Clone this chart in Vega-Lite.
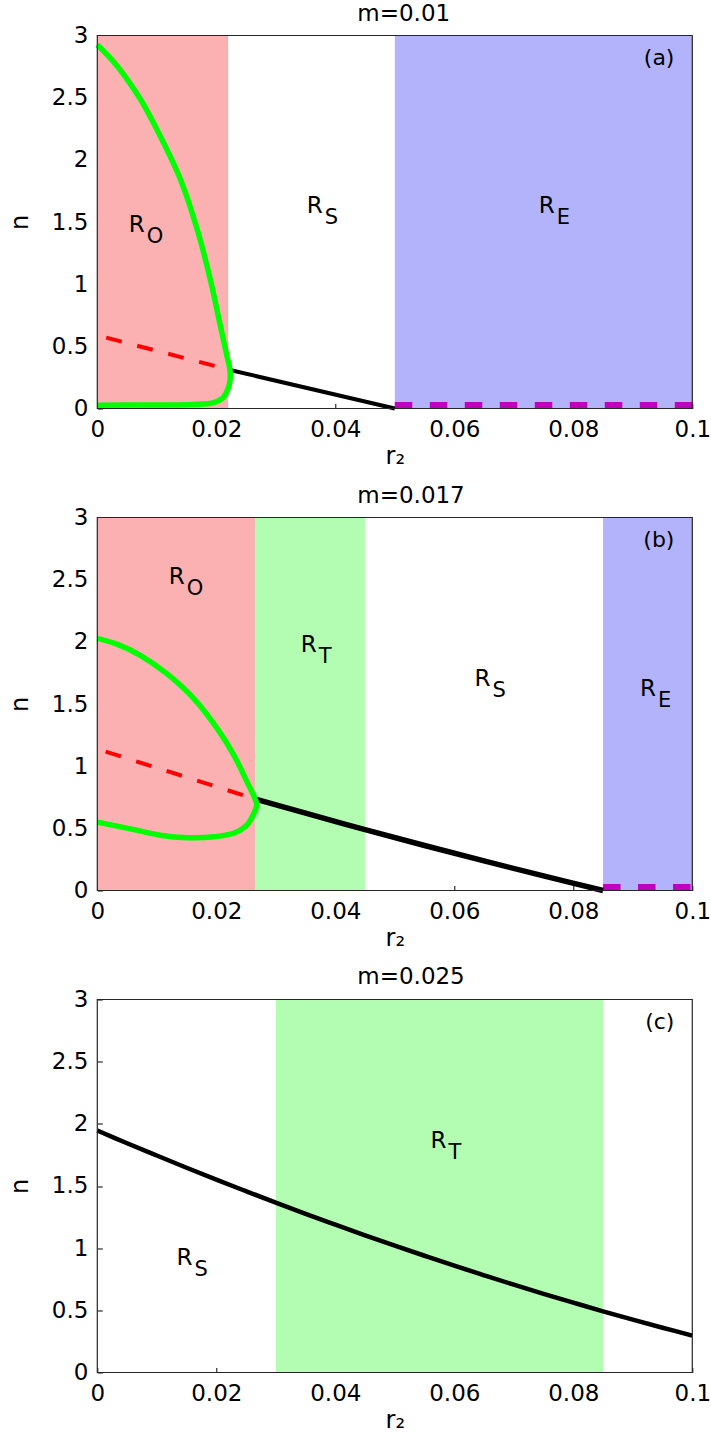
{
  "$schema": "https://vega.github.io/schema/vega-lite/v6.json",
  "background": "white",
  "padding": {"left": 8.3, "top": 2.5, "right": 2, "bottom": 5},
  "bounds": "flush",
  "spacing": 109,
  "config": {
    "font": "DejaVu Sans",
    "view": {"stroke": null},
    "axis": {
      "labelFont": "DejaVu Sans", "titleFont": "DejaVu Sans",
      "labelFontSize": 23, "titleFontSize": 24, "titleFontWeight": "normal",
      "labelColor": "#000", "titleColor": "#000",
      "labelFlush": false, "labelOverlap": false,
      "domain": false, "grid": false,
      "ticks": true, "tickSize": -5, "tickColor": "#000", "tickWidth": 1
    },
    "axisX": {"labelPadding": 15, "titlePadding": 3},
    "axisY": {"labelPadding": 14.4, "titlePadding": 19},
    "title": {"font": "DejaVu Sans", "fontSize": 23, "fontWeight": "normal", "color": "#000", "anchor": "start", "frame": "group", "dx": 260, "offset": -1, "baseline": "alphabetic"}
  },
  "datasets": {
    "frame": [{"r": 0, "r_end": 0.1, "n_lo": 0, "n_hi": 3}],
    "regions": [
      {"panel": "a", "region": "O", "r": 0, "r_end": 0.022, "n_lo": 0, "n_hi": 3},
      {"panel": "a", "region": "E", "r": 0.05, "r_end": 0.1, "n_lo": 0, "n_hi": 3},
      {"panel": "b", "region": "O", "r": 0, "r_end": 0.0265, "n_lo": 0, "n_hi": 3},
      {"panel": "b", "region": "T", "r": 0.0265, "r_end": 0.045, "n_lo": 0, "n_hi": 3},
      {"panel": "b", "region": "E", "r": 0.085, "r_end": 0.1, "n_lo": 0, "n_hi": 3},
      {"panel": "c", "region": "T", "r": 0.03, "r_end": 0.085, "n_lo": 0, "n_hi": 3}
    ],
    "curves": [
      {"panel": "a", "series": "cycle", "i": 0, "r": 0, "n": 2.925},
      {"panel": "a", "series": "cycle", "i": 1, "r": 0.0034, "n": 2.751},
      {"panel": "a", "series": "cycle", "i": 2, "r": 0.0073, "n": 2.483},
      {"panel": "a", "series": "cycle", "i": 3, "r": 0.0106, "n": 2.189},
      {"panel": "a", "series": "cycle", "i": 4, "r": 0.014, "n": 1.84},
      {"panel": "a", "series": "cycle", "i": 5, "r": 0.0168, "n": 1.439},
      {"panel": "a", "series": "cycle", "i": 6, "r": 0.019, "n": 1.037},
      {"panel": "a", "series": "cycle", "i": 7, "r": 0.0207, "n": 0.662},
      {"panel": "a", "series": "cycle", "i": 8, "r": 0.0218, "n": 0.42},
      {"panel": "a", "series": "cycle", "i": 9, "r": 0.0223, "n": 0.31},
      {"panel": "a", "series": "cycle", "i": 10, "r": 0.0223, "n": 0.22},
      {"panel": "a", "series": "cycle", "i": 11, "r": 0.0219, "n": 0.15},
      {"panel": "a", "series": "cycle", "i": 12, "r": 0.0211, "n": 0.085},
      {"panel": "a", "series": "cycle", "i": 13, "r": 0.0196, "n": 0.048},
      {"panel": "a", "series": "cycle", "i": 14, "r": 0.0162, "n": 0.032},
      {"panel": "a", "series": "cycle", "i": 15, "r": 0.01, "n": 0.028},
      {"panel": "a", "series": "cycle", "i": 16, "r": 0, "n": 0.027},
      {"panel": "a", "series": "unstable", "i": 0, "r": 0.0015, "n": 0.57},
      {"panel": "a", "series": "unstable", "i": 1, "r": 0.0223, "n": 0.31},
      {"panel": "a", "series": "stable", "i": 0, "r": 0.0223, "n": 0.31},
      {"panel": "a", "series": "stable", "i": 1, "r": 0.05, "n": 0},
      {"panel": "a", "series": "extinct", "i": 0, "r": 0.05, "n": 0.027},
      {"panel": "a", "series": "extinct", "i": 1, "r": 0.1, "n": 0.027},
      {"panel": "b", "series": "cycle", "i": 0, "r": 0, "n": 2.028},
      {"panel": "b", "series": "cycle", "i": 1, "r": 0.0034, "n": 1.98},
      {"panel": "b", "series": "cycle", "i": 2, "r": 0.0073, "n": 1.89},
      {"panel": "b", "series": "cycle", "i": 3, "r": 0.0118, "n": 1.74},
      {"panel": "b", "series": "cycle", "i": 4, "r": 0.0163, "n": 1.54},
      {"panel": "b", "series": "cycle", "i": 5, "r": 0.0202, "n": 1.3},
      {"panel": "b", "series": "cycle", "i": 6, "r": 0.023, "n": 1.085},
      {"panel": "b", "series": "cycle", "i": 7, "r": 0.0252, "n": 0.871},
      {"panel": "b", "series": "cycle", "i": 8, "r": 0.0264, "n": 0.75},
      {"panel": "b", "series": "cycle", "i": 9, "r": 0.0268, "n": 0.69},
      {"panel": "b", "series": "cycle", "i": 10, "r": 0.0263, "n": 0.62},
      {"panel": "b", "series": "cycle", "i": 11, "r": 0.0252, "n": 0.53},
      {"panel": "b", "series": "cycle", "i": 12, "r": 0.023, "n": 0.462},
      {"panel": "b", "series": "cycle", "i": 13, "r": 0.0196, "n": 0.432},
      {"panel": "b", "series": "cycle", "i": 14, "r": 0.0151, "n": 0.425},
      {"panel": "b", "series": "cycle", "i": 15, "r": 0.0106, "n": 0.445},
      {"panel": "b", "series": "cycle", "i": 16, "r": 0.0062, "n": 0.49},
      {"panel": "b", "series": "cycle", "i": 17, "r": 0, "n": 0.55},
      {"panel": "b", "series": "unstable", "i": 0, "r": 0.0014, "n": 1.117},
      {"panel": "b", "series": "unstable", "i": 1, "r": 0.0266, "n": 0.735},
      {"panel": "b", "series": "stable", "i": 0, "r": 0.0266, "n": 0.735},
      {"panel": "b", "series": "stable", "i": 1, "r": 0.035, "n": 0.622},
      {"panel": "b", "series": "stable", "i": 2, "r": 0.045, "n": 0.49},
      {"panel": "b", "series": "stable", "i": 3, "r": 0.055, "n": 0.362},
      {"panel": "b", "series": "stable", "i": 4, "r": 0.065, "n": 0.238},
      {"panel": "b", "series": "stable", "i": 5, "r": 0.075, "n": 0.117},
      {"panel": "b", "series": "stable", "i": 6, "r": 0.085, "n": 0},
      {"panel": "b", "series": "extinct", "i": 0, "r": 0.085, "n": 0.027},
      {"panel": "b", "series": "extinct", "i": 1, "r": 0.1, "n": 0.027},
      {"panel": "c", "series": "stable", "i": 0, "r": 0, "n": 1.946},
      {"panel": "c", "series": "stable", "i": 1, "r": 0.005, "n": 1.844},
      {"panel": "c", "series": "stable", "i": 2, "r": 0.01, "n": 1.745},
      {"panel": "c", "series": "stable", "i": 3, "r": 0.015, "n": 1.647},
      {"panel": "c", "series": "stable", "i": 4, "r": 0.02, "n": 1.551},
      {"panel": "c", "series": "stable", "i": 5, "r": 0.025, "n": 1.458},
      {"panel": "c", "series": "stable", "i": 6, "r": 0.03, "n": 1.366},
      {"panel": "c", "series": "stable", "i": 7, "r": 0.035, "n": 1.276},
      {"panel": "c", "series": "stable", "i": 8, "r": 0.04, "n": 1.189},
      {"panel": "c", "series": "stable", "i": 9, "r": 0.045, "n": 1.103},
      {"panel": "c", "series": "stable", "i": 10, "r": 0.05, "n": 1.02},
      {"panel": "c", "series": "stable", "i": 11, "r": 0.055, "n": 0.939},
      {"panel": "c", "series": "stable", "i": 12, "r": 0.06, "n": 0.859},
      {"panel": "c", "series": "stable", "i": 13, "r": 0.065, "n": 0.782},
      {"panel": "c", "series": "stable", "i": 14, "r": 0.07, "n": 0.706},
      {"panel": "c", "series": "stable", "i": 15, "r": 0.075, "n": 0.633},
      {"panel": "c", "series": "stable", "i": 16, "r": 0.08, "n": 0.562},
      {"panel": "c", "series": "stable", "i": 17, "r": 0.085, "n": 0.492},
      {"panel": "c", "series": "stable", "i": 18, "r": 0.09, "n": 0.425},
      {"panel": "c", "series": "stable", "i": 19, "r": 0.095, "n": 0.36},
      {"panel": "c", "series": "stable", "i": 20, "r": 0.1, "n": 0.297}
    ],
    "labels": [
      {"panel": "a", "r": 0.0053, "n": 1.417, "sub": "O"},
      {"panel": "a", "r": 0.0352, "n": 1.572, "sub": "S"},
      {"panel": "a", "r": 0.0742, "n": 1.572, "sub": "E"},
      {"panel": "b", "r": 0.012, "n": 2.463, "sub": "O"},
      {"panel": "b", "r": 0.0342, "n": 1.915, "sub": "T"},
      {"panel": "b", "r": 0.0634, "n": 1.641, "sub": "S"},
      {"panel": "b", "r": 0.0912, "n": 1.567, "sub": "E"},
      {"panel": "c", "r": 0.0133, "n": 0.865, "sub": "S"},
      {"panel": "c", "r": 0.056, "n": 1.805, "sub": "T"}
    ],
    "tags": [
      {"panel": "a", "r": 0.097, "n": 2.76, "tag": "(a)"},
      {"panel": "b", "r": 0.097, "n": 2.76, "tag": "(b)"},
      {"panel": "c", "r": 0.097, "n": 2.76, "tag": "(c)"}
    ]
  },
  "vconcat": [
    {
      "title": "m=0.01",
      "width": 595, "height": 373,
      "encoding": {
        "x": {"field": "r", "type": "quantitative", "scale": {"domain": [0, 0.1], "nice": false, "zero": false}, "axis": {"title": "r₂", "values": [0, 0.02, 0.04, 0.06, 0.08, 0.1], "format": "~g"}},
        "y": {"field": "n", "type": "quantitative", "scale": {"domain": [0, 3], "nice": false, "zero": false}, "axis": {"title": "n", "values": [0, 0.5, 1, 1.5, 2, 2.5, 3], "format": "~g"}}
      },
      "layer": [
        {"data": {"name": "regions"}, "transform": [{"filter": "datum.panel == 'a'"}], "mark": {"type": "rect"},
         "encoding": {"x2": {"field": "r_end"}, "y": {"field": "n_lo", "type": "quantitative"}, "y2": {"field": "n_hi"},
           "color": {"field": "region", "type": "nominal", "scale": {"domain": ["O", "T", "E"], "range": ["#FBB1B1", "#B3FDB3", "#B3B3FB"]}, "legend": null}}},
        {"data": {"name": "curves"}, "transform": [{"filter": "datum.panel == 'a' && datum.series == 'extinct'"}], "mark": {"type": "line", "color": "#BF00BF", "strokeWidth": 6.5, "strokeDash": [17.5, 17.5]}, "encoding": {"order": {"field": "i"}}},
        {"data": {"name": "curves"}, "transform": [{"filter": "datum.panel == 'a' && datum.series == 'stable'"}], "mark": {"type": "line", "color": "#000000", "strokeWidth": 4}, "encoding": {"order": {"field": "i"}}},
        {"data": {"name": "curves"}, "transform": [{"filter": "datum.panel == 'a' && datum.series == 'unstable'"}], "mark": {"type": "line", "color": "#FF0000", "strokeWidth": 4, "strokeDash": [16, 16]}, "encoding": {"order": {"field": "i"}}},
        {"data": {"name": "curves"}, "transform": [{"filter": "datum.panel == 'a' && datum.series == 'cycle'"}], "mark": {"type": "line", "color": "#00FF00", "strokeWidth": 5.5, "interpolate": "catmull-rom"}, "encoding": {"order": {"field": "i"}}},
        {"data": {"name": "labels"}, "transform": [{"filter": "datum.panel == 'a'"}], "mark": {"type": "text", "text": "R", "align": "left", "baseline": "alphabetic", "fontSize": 23, "color": "#000"}},
        {"data": {"name": "labels"}, "transform": [{"filter": "datum.panel == 'a'"}], "mark": {"type": "text", "align": "left", "baseline": "alphabetic", "fontSize": 21, "dx": 18, "dy": 11, "color": "#000"}, "encoding": {"text": {"field": "sub"}}},
        {"data": {"name": "tags"}, "transform": [{"filter": "datum.panel == 'a'"}], "mark": {"type": "text", "align": "right", "baseline": "alphabetic", "fontSize": 22, "color": "#000"}, "encoding": {"text": {"field": "tag"}}},
        {"data": {"name": "frame"}, "mark": {"type": "rect", "fill": "transparent", "stroke": "#262626", "strokeWidth": 1.2},
         "encoding": {"x2": {"field": "r_end"}, "y": {"field": "n_lo", "type": "quantitative"}, "y2": {"field": "n_hi"}}}
      ]
    },
    {
      "title": "m=0.017",
      "width": 595, "height": 373,
      "encoding": {
        "x": {"field": "r", "type": "quantitative", "scale": {"domain": [0, 0.1], "nice": false, "zero": false}, "axis": {"title": "r₂", "values": [0, 0.02, 0.04, 0.06, 0.08, 0.1], "format": "~g"}},
        "y": {"field": "n", "type": "quantitative", "scale": {"domain": [0, 3], "nice": false, "zero": false}, "axis": {"title": "n", "values": [0, 0.5, 1, 1.5, 2, 2.5, 3], "format": "~g"}}
      },
      "layer": [
        {"data": {"name": "regions"}, "transform": [{"filter": "datum.panel == 'b'"}], "mark": {"type": "rect"},
         "encoding": {"x2": {"field": "r_end"}, "y": {"field": "n_lo", "type": "quantitative"}, "y2": {"field": "n_hi"},
           "color": {"field": "region", "type": "nominal", "scale": {"domain": ["O", "T", "E"], "range": ["#FBB1B1", "#B3FDB3", "#B3B3FB"]}, "legend": null}}},
        {"data": {"name": "curves"}, "transform": [{"filter": "datum.panel == 'b' && datum.series == 'extinct'"}], "mark": {"type": "line", "color": "#BF00BF", "strokeWidth": 6.5, "strokeDash": [17.5, 17.5]}, "encoding": {"order": {"field": "i"}}},
        {"data": {"name": "curves"}, "transform": [{"filter": "datum.panel == 'b' && datum.series == 'stable'"}], "mark": {"type": "line", "color": "#000000", "strokeWidth": 5.5, "interpolate": "catmull-rom"}, "encoding": {"order": {"field": "i"}}},
        {"data": {"name": "curves"}, "transform": [{"filter": "datum.panel == 'b' && datum.series == 'unstable'"}], "mark": {"type": "line", "color": "#FF0000", "strokeWidth": 4, "strokeDash": [16, 16]}, "encoding": {"order": {"field": "i"}}},
        {"data": {"name": "curves"}, "transform": [{"filter": "datum.panel == 'b' && datum.series == 'cycle'"}], "mark": {"type": "line", "color": "#00FF00", "strokeWidth": 5.5, "interpolate": "catmull-rom"}, "encoding": {"order": {"field": "i"}}},
        {"data": {"name": "labels"}, "transform": [{"filter": "datum.panel == 'b'"}], "mark": {"type": "text", "text": "R", "align": "left", "baseline": "alphabetic", "fontSize": 23, "color": "#000"}},
        {"data": {"name": "labels"}, "transform": [{"filter": "datum.panel == 'b'"}], "mark": {"type": "text", "align": "left", "baseline": "alphabetic", "fontSize": 21, "dx": 18, "dy": 11, "color": "#000"}, "encoding": {"text": {"field": "sub"}}},
        {"data": {"name": "tags"}, "transform": [{"filter": "datum.panel == 'b'"}], "mark": {"type": "text", "align": "right", "baseline": "alphabetic", "fontSize": 22, "color": "#000"}, "encoding": {"text": {"field": "tag"}}},
        {"data": {"name": "frame"}, "mark": {"type": "rect", "fill": "transparent", "stroke": "#262626", "strokeWidth": 1.2},
         "encoding": {"x2": {"field": "r_end"}, "y": {"field": "n_lo", "type": "quantitative"}, "y2": {"field": "n_hi"}}}
      ]
    },
    {
      "title": "m=0.025",
      "width": 595, "height": 373,
      "encoding": {
        "x": {"field": "r", "type": "quantitative", "scale": {"domain": [0, 0.1], "nice": false, "zero": false}, "axis": {"title": "r₂", "values": [0, 0.02, 0.04, 0.06, 0.08, 0.1], "format": "~g"}},
        "y": {"field": "n", "type": "quantitative", "scale": {"domain": [0, 3], "nice": false, "zero": false}, "axis": {"title": "n", "values": [0, 0.5, 1, 1.5, 2, 2.5, 3], "format": "~g"}}
      },
      "layer": [
        {"data": {"name": "regions"}, "transform": [{"filter": "datum.panel == 'c'"}], "mark": {"type": "rect"},
         "encoding": {"x2": {"field": "r_end"}, "y": {"field": "n_lo", "type": "quantitative"}, "y2": {"field": "n_hi"},
           "color": {"field": "region", "type": "nominal", "scale": {"domain": ["O", "T", "E"], "range": ["#FBB1B1", "#B3FDB3", "#B3B3FB"]}, "legend": null}}},
        {"data": {"name": "curves"}, "transform": [{"filter": "datum.panel == 'c' && datum.series == 'stable'"}], "mark": {"type": "line", "color": "#000000", "strokeWidth": 4.5, "interpolate": "catmull-rom"}, "encoding": {"order": {"field": "i"}}},
        {"data": {"name": "labels"}, "transform": [{"filter": "datum.panel == 'c'"}], "mark": {"type": "text", "text": "R", "align": "left", "baseline": "alphabetic", "fontSize": 23, "color": "#000"}},
        {"data": {"name": "labels"}, "transform": [{"filter": "datum.panel == 'c'"}], "mark": {"type": "text", "align": "left", "baseline": "alphabetic", "fontSize": 21, "dx": 18, "dy": 11, "color": "#000"}, "encoding": {"text": {"field": "sub"}}},
        {"data": {"name": "tags"}, "transform": [{"filter": "datum.panel == 'c'"}], "mark": {"type": "text", "align": "right", "baseline": "alphabetic", "fontSize": 22, "color": "#000"}, "encoding": {"text": {"field": "tag"}}},
        {"data": {"name": "frame"}, "mark": {"type": "rect", "fill": "transparent", "stroke": "#262626", "strokeWidth": 1.2},
         "encoding": {"x2": {"field": "r_end"}, "y": {"field": "n_lo", "type": "quantitative"}, "y2": {"field": "n_hi"}}}
      ]
    }
  ]
}
